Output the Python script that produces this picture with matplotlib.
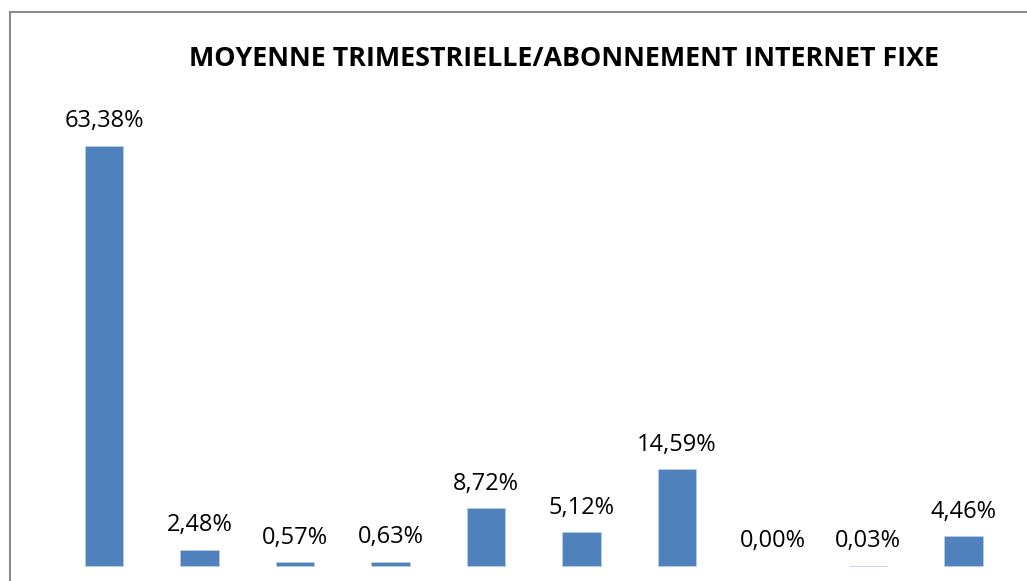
#!/usr/bin/env python3
"""Moyenne trimestrielle / abonnement internet fixe — barres simples."""

import matplotlib
matplotlib.use("Agg")
import matplotlib.pyplot as plt
from matplotlib.lines import Line2D

# valeurs (en %)
categories = ["c1", "c2", "c3", "c4", "c5", "c6", "c7", "c8", "c9", "c10"]
valeurs = [63.38, 2.48, 0.57, 0.63, 8.72, 5.12, 14.59, 0.00, 0.03, 4.46]
etiquettes = ["63,38%", "2,48%", "0,57%", "0,63%", "8,72%",
              "5,12%", "14,59%", "0,00%", "0,03%", "4,46%"]

titre = "MOYENNE TRIMESTRIELLE/ABONNEMENT INTERNET FIXE"
couleur = "#4F81BD"

W, H = 1027, 581
fig = plt.figure(figsize=(W / 100, H / 100), dpi=100)
plt.rcParams["font.family"] = ["Open Sans", "DejaVu Sans"]

# axes sur toute la figure, échelle choisie pour caler les barres
ax = fig.add_axes([0, 0, 1, 1])
pas = 95.5          # px entre barres
x0 = 104            # centre de la 1re barre en px
base = 581 - 566    # ligne de base en px depuis le bas
px_par_pct = 420 / 63.38
ax.set_xlim(-x0 / pas, (W - x0) / pas)
ax.set_ylim(-base / px_par_pct, (H - base) / px_par_pct)
ax.axis("off")

x = range(len(categories))
bords = ["#B9CDE5" if v > 0 else "none" for v in valeurs]
ax.bar(x, valeurs, width=0.40, color=couleur, edgecolor=bords, linewidth=0.6)

for i, (v, lab) in enumerate(zip(valeurs, etiquettes)):
    ax.annotate(lab, (i, v), xytext=(0, 9), textcoords="offset points",
                ha="center", va="bottom", fontsize=17, color="black")

fig.text(564 / W, 1 - 59 / H, titre, ha="center", va="center",
         fontsize=19.4, fontweight="bold", color="black")

# cadre du graphique (gauche + haut)
fig.add_artist(Line2D([10 / W, 10 / W], [0, 1 - 12 / H], transform=fig.transFigure,
                      color="#8C8C8C", linewidth=1.5))
fig.add_artist(Line2D([10 / W, 1], [1 - 12 / H, 1 - 12 / H], transform=fig.transFigure,
                      color="#8C8C8C", linewidth=1.5))

fig.savefig("out.png", dpi=100)
